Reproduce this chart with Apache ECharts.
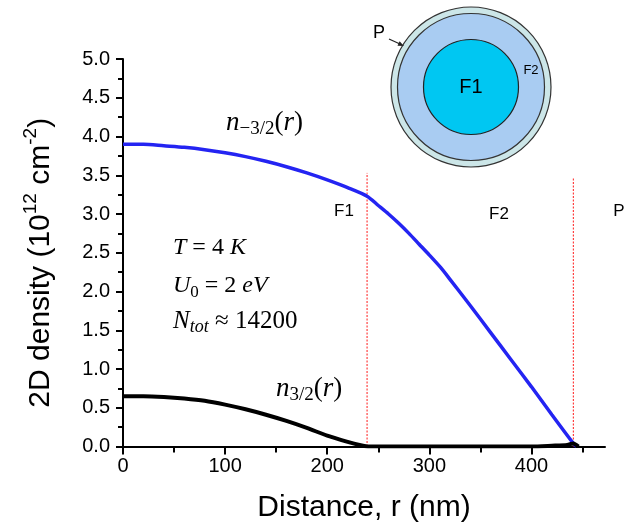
<!DOCTYPE html>
<html><head><meta charset="utf-8">
<script src="https://cdn.jsdelivr.net/npm/echarts@6/dist/echarts.min.js"></script>
<style>html,body{margin:0;padding:0;background:#fff}#c{width:644px;height:529px}</style>
</head><body><div id="c"></div>
<script>
// ---- data ----
const rBlue  = [0, 20, 40, 60, 80, 100, 120, 140, 160, 180, 200, 220, 239, 250, 260, 270, 280, 290, 300, 311, 320, 340, 360, 380, 400, 420, 441, 444];
const nBlue  = [3.90, 3.90, 3.88, 3.86, 3.83, 3.79, 3.74, 3.68, 3.61, 3.53, 3.44, 3.34, 3.23, 3.11, 3.00, 2.88, 2.75, 2.61, 2.47, 2.31, 2.16, 1.82, 1.47, 1.12, 0.77, 0.41, 0.04, 0.00];
const rBlack = [0, 20, 40, 60, 80, 100, 120, 140, 160, 180, 200, 220, 235, 240, 300, 400, 420, 435, 441, 446];
const nBlack = [0.65, 0.65, 0.64, 0.62, 0.59, 0.54, 0.48, 0.41, 0.33, 0.24, 0.14, 0.06, 0.01, 0.00, 0.00, 0.00, 0.01, 0.02, 0.04, 0.00];
const boundaryR   = [239, 441];
const boundaryTop = [3.53, 3.46];
const xMajorTicks = [0, 100, 200, 300, 400];
const xMinorTicks = [50, 150, 250, 350, 450];
const xMax = 472;
const yMin = 0, yMax = 5, yInterval = 0.5;

const SANS = "'Liberation Sans', Arial, sans-serif";
const SERIF = "'Liberation Serif', 'Times New Roman', serif";

const pairs = (xs, ys) => xs.map((x, i) => [x, ys[i]]);
const chart = echarts.init(document.getElementById('c'), null, {renderer: 'canvas'});

function makeRich(big, small, lh) {
  return {
    i:  {fontFamily: SERIF, fontStyle: 'italic', fontSize: big, lineHeight: lh, fill: '#000'},
    n:  {fontFamily: SERIF, fontStyle: 'normal', fontSize: big, lineHeight: lh, fill: '#000'},
    is: {fontFamily: SERIF, fontStyle: 'italic', fontSize: small, verticalAlign: 'bottom', fill: '#000'},
    ns: {fontFamily: SERIF, fontStyle: 'normal', fontSize: small, verticalAlign: 'bottom', fill: '#000'}
  };
}
function mathText(x, y, text, big, small, lh) {
  return {type: 'text', x: x, y: y, z: 10,
    style: {text: text, rich: makeRich(big, small, lh), align: 'left', verticalAlign: 'middle',
      fontFamily: SERIF, fontSize: big, lineHeight: lh, fill: '#000'}};
}
function plainText(x, y, text, size) {
  return {type: 'text', x: x, y: y, z: 10,
    style: {text: text, align: 'center', verticalAlign: 'middle',
      fontFamily: SANS, fontSize: size, fill: '#000'}};
}

const boundarySeries = boundaryR.map((r, i) => ({
  type: 'line', data: [[r, 0], [r, boundaryTop[i]]], showSymbol: false, silent: true,
  lineStyle: {color: '#ff1a1a', width: 1, type: [2, 1.5]}, z: 3
}));

const option = {
  backgroundColor: '#fff',
  animation: false,
  grid: {left: 123, right: 39, top: 59, bottom: 82.5, containLabel: false, outerBoundsMode: 'none'},
  xAxis: [{
    type: 'value', min: 0, max: xMax, interval: 100,
    name: 'Distance, r (nm)', nameLocation: 'middle', nameGap: 46,
    nameTextStyle: {fontFamily: SANS, fontSize: 30, color: '#000'},
    axisLine: {show: true, onZero: false, lineStyle: {color: '#000', width: 2}},
    axisTick: {show: true, customValues: xMajorTicks, length: 8, lineStyle: {color: '#000', width: 2}},
    axisLabel: {customValues: xMajorTicks, fontFamily: SANS, fontSize: 20, color: '#000', margin: 10},
    splitLine: {show: false}
  }, {
    type: 'value', min: 0, max: xMax, position: 'bottom', gridIndex: 0,
    axisLine: {show: false, onZero: false},
    axisTick: {show: true, customValues: xMinorTicks, length: 6, lineStyle: {color: '#000', width: 2}},
    axisLabel: {show: false}, splitLine: {show: false}
  }],
  yAxis: {
    type: 'value', min: yMin, max: yMax, interval: yInterval,
    name: '2D density (10{s|12} cm{s|-2})', nameLocation: 'middle', nameGap: 62,
    nameTextStyle: {fontFamily: SANS, fontSize: 30, color: '#000', lineHeight: 40, padding: [0, 20, 0, 0],
      rich: {s: {fontFamily: SANS, fontSize: 19, color: '#000', verticalAlign: 'top'}}},
    axisLine: {show: true, lineStyle: {color: '#000', width: 2}},
    axisTick: {show: true, length: 7, lineStyle: {color: '#000', width: 2}},
    minorTick: {show: true, splitNumber: 2, length: 5, lineStyle: {color: '#000', width: 2}},
    axisLabel: {fontFamily: SANS, fontSize: 20, color: '#000', margin: 13,
      formatter: v => v.toFixed(1)},
    splitLine: {show: false}
  },
  series: [
    ...boundarySeries,
    {type: 'line', name: 'n-3/2', data: pairs(rBlue, nBlue), showSymbol: false, smooth: 0.25,
      lineStyle: {color: '#2424f2', width: 3.5}, z: 4},
    {type: 'line', name: 'n3/2', data: pairs(rBlack, nBlack), showSymbol: false, smooth: 0.25,
      lineStyle: {color: '#000', width: 4}, z: 5}
  ],
  graphic: [
    {type: 'circle', shape: {cx: 471, cy: 87, r: 80}, style: {fill: '#cce6e8', stroke: '#333', lineWidth: 1.2}, z: 1},
    {type: 'circle', shape: {cx: 471, cy: 87, r: 73.5}, style: {fill: '#a9ccf2', stroke: '#333', lineWidth: 1.2}, z: 2},
    {type: 'circle', shape: {cx: 471, cy: 87, r: 47.5}, style: {fill: '#00c7f2', stroke: '#222', lineWidth: 1.2}, z: 3},
    plainText(471, 87, 'F1', 20),
    plainText(531, 70, 'F2', 13),
    plainText(379, 33, 'P', 18),
    {type: 'line', shape: {x1: 389, y1: 39, x2: 400, y2: 44}, style: {stroke: '#222', lineWidth: 1.3}, z: 10},
    {type: 'polygon', shape: {points: [[404, 46], [397.5, 45.8], [399.6, 41.2]]}, style: {fill: '#222'}, z: 10},
    plainText(344, 211, 'F1', 17),
    plainText(499, 214, 'F2', 17),
    plainText(619, 211, 'P', 17),
    mathText(226, 123, '{i|n}{ns|−3/2}{n|(}{i|r}{n|)}', 27, 19, 32),
    mathText(276, 389, '{i|n}{ns|3/2}{n|(}{i|r}{n|)}', 27, 19, 32),
    mathText(173, 248, '{i|T}{n| = 4 }{i|K}', 24, 17, 30),
    mathText(173, 286, '{i|U}{ns|0}{n| = 2 }{i|eV}', 24, 17, 30),
    mathText(173, 321, '{i|N}{is|tot}{n| ≈ 14200}', 25, 18, 30)
  ]
};
chart.setOption(option);
</script>
</body></html>
